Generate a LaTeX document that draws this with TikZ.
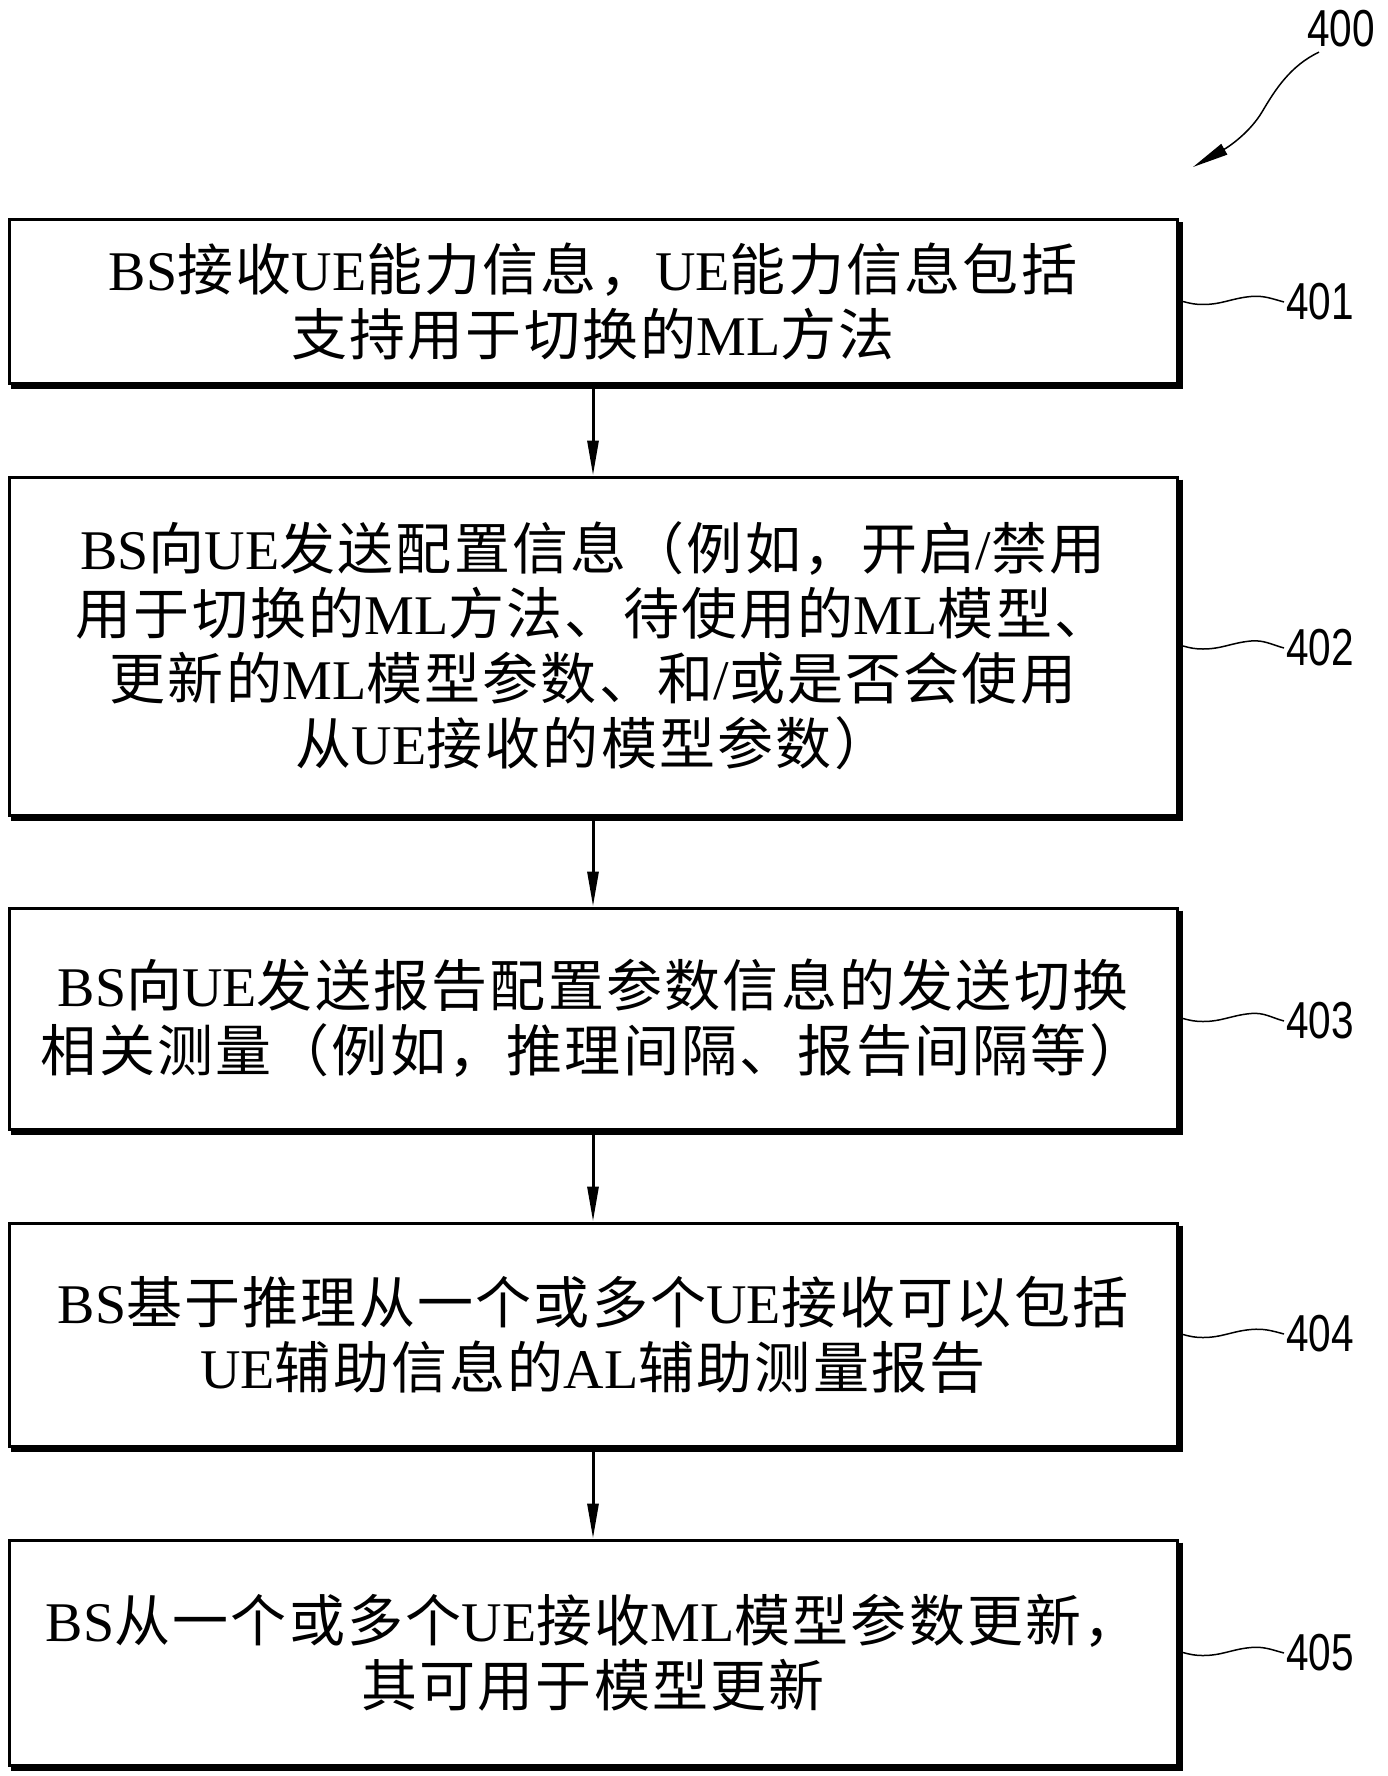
\documentclass[tikz,border=0pt]{standalone}
\usepackage{fontspec}
\setmainfont{Noto Sans CJK SC}[LetterSpace=4]
\newfontfamily\lat{Liberation Serif}
\newfontfamily\labfont{Liberation Sans}[FakeStretch=0.78]
\newcommand\tm[1]{{\lat #1}}
\usetikzlibrary{arrows.meta}
\begin{document}
\begin{tikzpicture}[x=1pt,y=1pt,
  box/.style={draw, line width=3pt, minimum width=1168pt, inner sep=0pt, align=center,
    font=\fontsize{56}{65}\selectfont},
  shadowline/.style={line width=6pt},
  flow/.style={line width=3pt, -{Triangle[length=35pt,width=11pt]}},
  lab/.style={font=\labfont\fontsize{52}{60}\selectfont, inner sep=2pt, anchor=west},
  leader/.style={line width=1.5pt}]
\fill[white] (0,0) rectangle (1387,-1776);
\useasboundingbox (0,0) rectangle (1387,-1776);

\node[box, minimum height=163pt] (b1) at (593,-301.5)
  {\tm{BS}接收\tm{UE}能力信息，\tm{UE}能力信息包括\\支持用于切换的\tm{ML}方法};
\node[box, minimum height=338pt] (b2) at (593,-646)
  {\tm{BS}向\tm{UE}发送配置信息（例如，开启\tm{/}禁用\\用于切换的\tm{ML}方法、待使用的\tm{ML}模型、\\更新的\tm{ML}模型参数、和\tm{/}或是否会使用\\从\tm{UE}接收的模型参数）};
\node[box, minimum height=221pt] (b3) at (593,-1018.5)
  {\tm{BS}向\tm{UE}发送报告配置参数信息的发送切换\\相关测量（例如，推理间隔、报告间隔等）};
\node[box, minimum height=223pt] (b4) at (593,-1334.5)
  {\tm{BS}基于推理从一个或多个\tm{UE}接收可以包括\\\tm{UE}辅助信息的\tm{AL}辅助测量报告};
\node[box, minimum height=225pt] (b5) at (593,-1652.5)
  {\tm{BS}从一个或多个\tm{UE}接收\tm{ML}模型参数更新，\\其可用于模型更新};

\foreach \b in {b1,b2,b3,b4,b5}{
  \draw[shadowline] ([xshift=1.5pt,yshift=-4pt]\b.north east) -- ([xshift=1.5pt,yshift=-1.5pt]\b.south east) -- ([xshift=3pt,yshift=-1.5pt]\b.south west);
}

\draw[flow] (b1.south) -- (b2.north);
\draw[flow] (b2.south) -- (b3.north);
\draw[flow] (b3.south) -- (b4.north);
\draw[flow] (b4.south) -- (b5.north);

\node[lab] (l1) at (1284,-302) {401};
\node[lab] (l2) at (1284,-648) {402};
\node[lab] (l3) at (1284,-1021) {403};
\node[lab] (l4) at (1284,-1334) {404};
\node[lab] (l5) at (1284,-1653) {405};

\foreach \i in {1,...,5}{
  \draw[leader] ([xshift=4.5pt]b\i.east) to[out=-15,in=180] ++(20,-3) to[out=0,in=185] ++(48,8) to[out=5,in=165] (l\i.west);
}

\node[lab, anchor=center] (l0) at (1341,-28.5) {400};
\coordinate (a0) at (1193,-167);
\draw[leader, -{Triangle[length=36pt,width=12pt]}] ([xshift=14pt,yshift=-3pt]l0.south west)
  .. controls (1290,-66) and (1275,-90) .. (1262,-112)
  .. controls (1250,-132) and (1230,-146) .. (a0);
\end{tikzpicture}
\end{document}
